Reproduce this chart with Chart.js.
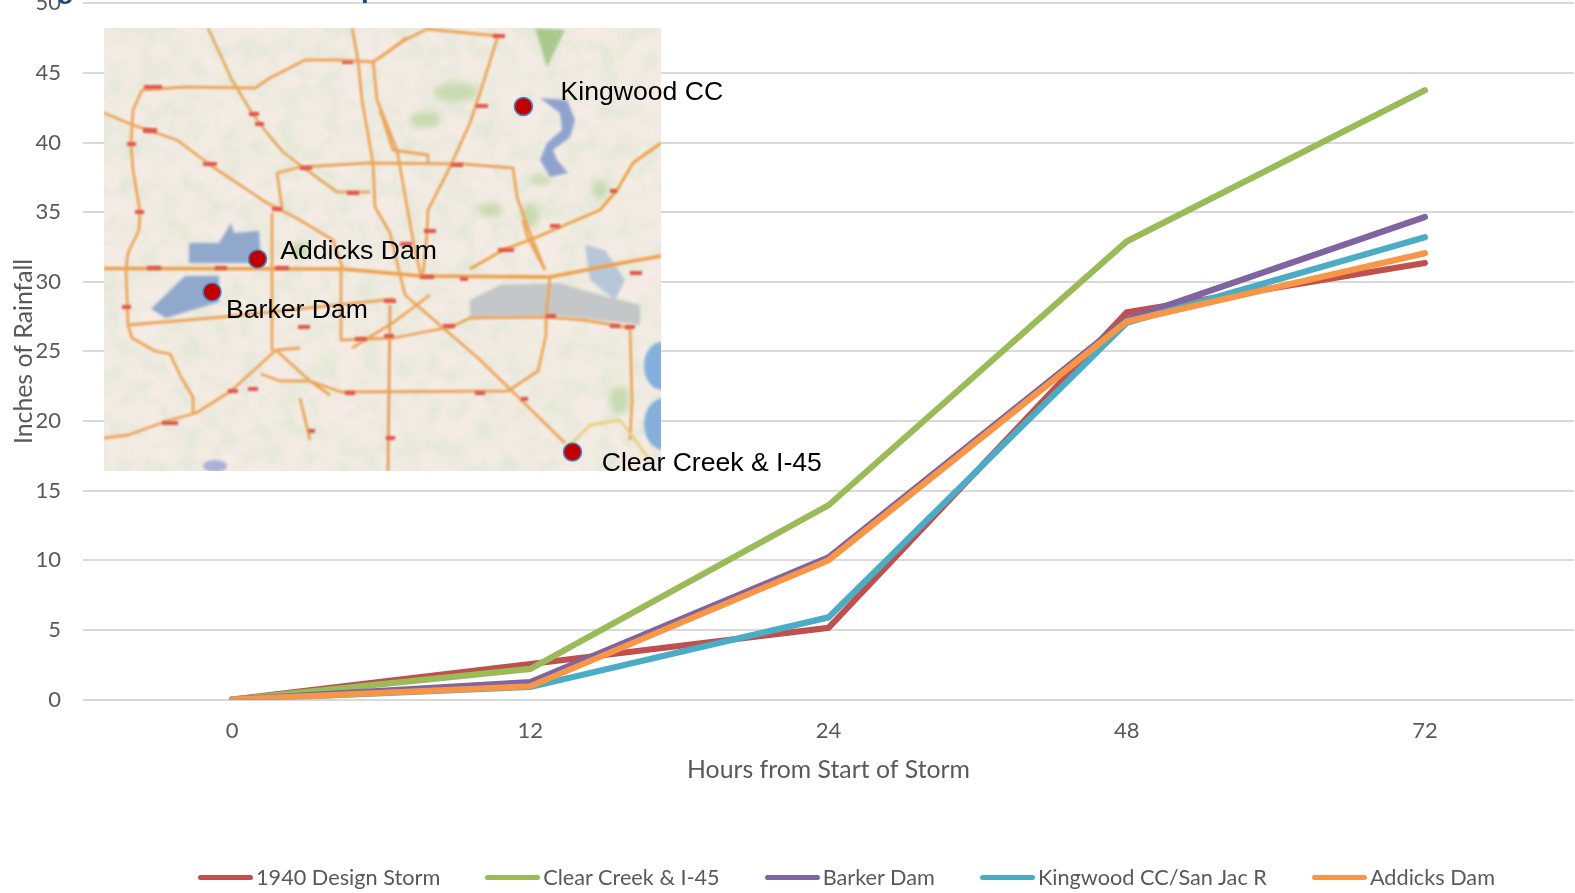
<!DOCTYPE html>
<html>
<head>
<meta charset="utf-8">
<title>Inches of Rainfall</title>
<script src="https://cdn.jsdelivr.net/npm/chart.js@4"></script>
<style>
html, body { margin: 0; padding: 0; background: #fff; overflow: hidden; }
#wrap { position: absolute; left: 0; top: 0; width: 1575px; height: 893px; }
#map { position: absolute; left: 0; top: 0; width: 1575px; height: 893px; }
#legend { position: absolute; left: 198px; top: 864px; display: flex; gap: 45px; font: 21.7px Lato, sans-serif; color: #595959; white-space: nowrap; }
#legend div { display: flex; align-items: center; line-height: 27px; }
#legend i { display: block; width: 55px; height: 5.6px; border-radius: 3px; margin-right: 3px; }
</style>
</head>
<body>
<div id="wrap"><canvas id="rainfall" width="1575" height="893"></canvas></div>

<svg id="map" viewBox="0 0 1575 893" xmlns="http://www.w3.org/2000/svg">
  <defs>
    <clipPath id="mapClip"><rect x="104" y="28" width="557" height="443"/></clipPath>
    <filter id="soft" x="-5%" y="-5%" width="110%" height="110%"><feGaussianBlur stdDeviation="1"/></filter>
    <filter id="medium" x="-10%" y="-10%" width="120%" height="120%"><feGaussianBlur stdDeviation="1.6"/></filter>
    <filter id="softer" x="-20%" y="-20%" width="140%" height="140%"><feGaussianBlur stdDeviation="3"/></filter>
    <filter id="mottle"><feTurbulence type="fractalNoise" baseFrequency="0.05" numOctaves="3" seed="7"/>
      <feColorMatrix values="0 0 0 0 0.66  0 0 0 0 0.78  0 0 0 0 0.62  0 0 0 2.4 -1"/></filter>
    <filter id="mottlePink"><feTurbulence type="fractalNoise" baseFrequency="0.03" numOctaves="2" seed="21"/>
      <feColorMatrix values="0 0 0 0 0.96  0 0 0 0 0.84  0 0 0 0 0.84  0 0 0 2.4 -0.9"/></filter>
  </defs>
  <!-- clipped bits of the slide title above the chart -->
  <text x="57" y="-2" font-family="Liberation Sans" font-weight="bold" font-size="28" fill="#1f497d">g</text>
  <text x="361" y="-3" font-family="Liberation Sans" font-weight="bold" font-size="28" fill="#1f497d">p</text>

  <g clip-path="url(#mapClip)">
    <rect x="104" y="28" width="557" height="443" fill="#f1ebe1"/>
    <rect x="104" y="28" width="557" height="443" filter="url(#mottlePink)" opacity="0.6"/>
    <rect x="104" y="28" width="557" height="443" filter="url(#mottle)" opacity="0.5"/>
    <g filter="url(#softer)" fill="#bcd5a0" opacity="0.75">
      <ellipse cx="455" cy="92" rx="22" ry="10"/><ellipse cx="425" cy="120" rx="16" ry="8"/>
      <ellipse cx="490" cy="210" rx="12" ry="7"/><ellipse cx="530" cy="215" rx="9" ry="12"/>
      <ellipse cx="600" cy="190" rx="8" ry="10"/><ellipse cx="300" cy="250" rx="10" ry="8"/>
      <ellipse cx="540" cy="180" rx="12" ry="5"/><ellipse cx="620" cy="400" rx="10" ry="14"/>
    </g>
    <g filter="url(#medium)">
      <path d="M535 28L565 30L547 67Z" fill="#a9c98d"/>
      <path d="M189 243L219 243L231 223L234 233L259 231L261 263L189 263Z" fill="#8fa8cc"/>
      <path d="M185 276L219 276L219 302L166 318L151 309Z" fill="#8fa8cc"/>
      <ellipse cx="662" cy="366" rx="18" ry="24" fill="#83b0dc"/>
      <ellipse cx="664" cy="424" rx="20" ry="26" fill="#83b0dc"/>
      <ellipse cx="215" cy="466" rx="12" ry="6" fill="#aab0d8"/>
      <path d="M540 98L567 100L575 120L570 137L553 150L557 160L568 173L550 177L540 160L547 143L562 130L560 113Z" fill="#8fa2cf"/>
      <path d="M470 300L500 285L560 283L600 295L640 305L640 325L560 316L470 318Z" fill="#bcc1c4" opacity="0.85"/>
      <path d="M585 245L605 250L625 280L615 300L590 280Z" fill="#afc0d8" opacity="0.85"/>
    </g>
    <g filter="url(#soft)" fill="none" stroke="#eda55a" stroke-width="2.8" stroke-linejoin="round">
      <path d="M104 268.5L343 269L421 276L550 277L622 263L661 256" stroke-width="3.6" stroke="#ee9f48"/>
      <path d="M142 90L185 87L255 88L270 78L305 60L340 60L373 62L405 40L427 29L497 36"/>
      <path d="M142 90L133 110L131 143L133 170L140 212L139 230L128 253L126 269L128 325L132 338L155 351L170 354L181 377L193 397L193 413"/>
      <path d="M208 28L232 80L252 113L267 133L283 152L300 165L337 192L370 192" stroke="#e0ae62"/>
      <path d="M104 113L133 125L177 140L213 167L267 203L300 220L333 240L343 269"/>
      <path d="M277 173L282 208M272 213L272 351M277 173L300 167L370 163L463 164L513 168L517 197L530 233L545 270"/>
      <path d="M352 28L358 60L362 100L373 163L375 207L390 233L405 295"/>
      <path d="M373 60L377 100L397 150L413 240L421 276"/>
      <path d="M380 58L407 37M380 110L393 150L428 155L428 164"/>
      <path d="M498 36L480 93L470 123L450 167L428 210L427 233L423 276"/>
      <path d="M470 269L503 250L537 237L600 210L617 190L633 163L661 143" stroke="#eda042"/>
      <path d="M550 277L546 317L546 335L538 371L508 391L341 392L310 381L280 381L261 374"/>
      <path d="M341 269L341 340L394 338L424 332L451 327L470 318L546 317L584 320L630 328L632 400L630 440"/>
      <path d="M104 438L128 435L170 420L196 413L231 391L253 371L276 350L300 348"/>
      <path d="M276 350L310 381L330 395M300 398L310 440"/>
      <path d="M352 348L394 322L430 295M128 325L223 317L299 309L394 299"/>
      <path d="M405 295L478 358L512 391L565 443"/>
      <path d="M390 305L388 471" stroke="#e89d58"/>
      <path d="M545 270L527 236L523 220"/>
      <path d="M570 445L590 425L620 420L650 460" stroke="#e8d07a"/>
    </g>
    <g filter="url(#soft)" fill="#e0574e">
      <rect x="144" y="85" width="18" height="4"/><rect x="143" y="128" width="14" height="5"/>
      <rect x="203" y="162" width="14" height="4"/><rect x="249" y="112" width="10" height="4"/>
      <rect x="255" y="122" width="9" height="4"/><rect x="127" y="142" width="9" height="4"/>
      <rect x="135" y="210" width="9" height="4"/><rect x="272" y="207" width="10" height="4"/>
      <rect x="300" y="166" width="12" height="4"/><rect x="347" y="191" width="12" height="4"/>
      <rect x="342" y="61" width="11" height="3"/><rect x="493" y="34" width="12" height="4"/>
      <rect x="476" y="104" width="12" height="4"/><rect x="451" y="163" width="12" height="4"/>
      <rect x="424" y="229" width="12" height="4"/><rect x="498" y="248" width="16" height="4"/>
      <rect x="550" y="224" width="10" height="4"/><rect x="610" y="189" width="7" height="4"/>
      <rect x="147" y="266" width="14" height="4"/><rect x="215" y="266" width="12" height="4"/>
      <rect x="275" y="266" width="14" height="4"/><rect x="122" y="305" width="9" height="4"/>
      <rect x="298" y="325" width="12" height="4"/><rect x="384" y="299" width="12" height="4"/>
      <rect x="384" y="334" width="10" height="4"/><rect x="355" y="337" width="12" height="4"/>
      <rect x="443" y="324" width="12" height="4"/><rect x="546" y="314" width="10" height="4"/>
      <rect x="610" y="324" width="10" height="4"/><rect x="625" y="325" width="10" height="4"/>
      <rect x="248" y="387" width="10" height="4"/><rect x="345" y="391" width="10" height="4"/>
      <rect x="475" y="391" width="10" height="4"/><rect x="228" y="389" width="10" height="4"/>
      <rect x="162" y="421" width="16" height="4"/><rect x="386" y="436" width="9" height="4"/>
      <rect x="521" y="397" width="7" height="4"/><rect x="308" y="429" width="7" height="4"/>
      <rect x="630" y="271" width="12" height="4"/><rect x="460" y="277" width="8" height="4"/>
      <rect x="420" y="275" width="14" height="4"/><rect x="400" y="242" width="12" height="4"/>
    </g>
  </g>
  <g fill="#c00000" stroke="#4f81bd" stroke-width="1.6">
    <circle cx="523.4" cy="106.5" r="9"/><circle cx="257.5" cy="259" r="9"/>
    <circle cx="212" cy="292" r="9"/><circle cx="572.5" cy="452" r="9"/>
  </g>
  <g font-family="Liberation Sans" font-size="26.6" fill="#000">
    <text x="560.5" y="100">Kingwood CC</text>
    <text x="280.3" y="259">Addicks Dam</text>
    <text x="226" y="318">Barker Dam</text>
    <text x="601.7" y="471">Clear Creek &amp; I-45</text>
  </g>
</svg>

<div id="legend"></div>

<script>
var hours = ["0", "12", "24", "48", "72"];
var yTicks = [0, 5, 10, 15, 20, 25, 30, 35, 40, 45, 50];

var storm1940 = [0, 2.55, 5.15, 27.8, 31.35];
var clearCreek = [0, 2.2, 13.95, 32.9, 43.75];
var barkerDam = [0, 1.25, 10.2, 27.3, 34.65];
var kingwood = [0, 0.9, 5.9, 27.05, 33.2];
var addicksDam = [0, 0.95, 10, 27.15, 32.05];

var seriesNames = ["1940 Design Storm", "Clear Creek & I-45", "Barker Dam", "Kingwood CC/San Jac R", "Addicks Dam"];
var seriesColors = ["#c0504d", "#9bbb59", "#8064a2", "#4bacc6", "#f79646"];
var seriesValues = [storm1940, clearCreek, barkerDam, kingwood, addicksDam];

var datasets = seriesNames.map(function (name, i) {
  return {
    label: name,
    data: seriesValues[i],
    // later series on top, chart.js draws lowest order last
    order: seriesNames.length - i,
    borderColor: seriesColors[i],
    backgroundColor: seriesColors[i],
    borderWidth: 6.2,
    borderCapStyle: 'round',
    borderJoinStyle: 'miter',
    pointRadius: 0,
    tension: 0,
    fill: false
  };
});

var textColor = '#595959';
var font = { family: 'Lato, sans-serif', size: 22 };

var ctx = document.getElementById('rainfall').getContext('2d');
var chart = new Chart(ctx, {
  type: 'line',
  data: { labels: hours, datasets: datasets },
  options: {
    responsive: false,
    animation: false,
    layout: { padding: { right: 1, top: 3.3, bottom: 0 } },
    plugins: { legend: { display: false }, tooltip: { enabled: false } },
    scales: {
      x: {
        offset: true,
        grid: { display: false },
        border: { display: false },
        ticks: { color: textColor, font: font, padding: 10, maxRotation: 0 },
        title: { display: true, text: 'Hours from Start of Storm', color: textColor, font: { family: font.family, size: 24.8 }, padding: { top: 10, bottom: 108 } },
        afterFit: function (scale) { scale.height = 193.5; }
      },
      y: {
        min: 0,
        max: 50,
        afterBuildTicks: function (scale) {
          scale.ticks = yTicks.map(function (v) { return { value: v }; });
        },
        grid: { color: '#d9d9d9', lineWidth: 2, drawTicks: false },
        border: { display: false },
        ticks: { color: textColor, font: font, padding: 22 },
        title: { display: true, text: 'Inches of Rainfall', color: textColor, font: { family: font.family, size: 24.8 }, padding: { top: 9, bottom: 0 } },
        // top tick label is cut by the page edge in the original, so no room reserved for it
        afterFit: function (scale) { scale.width = 83; scale.paddingTop = 0; scale.paddingBottom = 0; }
      }
    }
  }
});

// legend goes in the page so the swatch can sit right up against the label
document.getElementById('legend').innerHTML = seriesNames.map(function (name, i) {
  return '<div><i style="background:' + seriesColors[i] + '"></i>' + name.replace('&', '&amp;') + '</div>';
}).join('');
</script>
</body>
</html>
